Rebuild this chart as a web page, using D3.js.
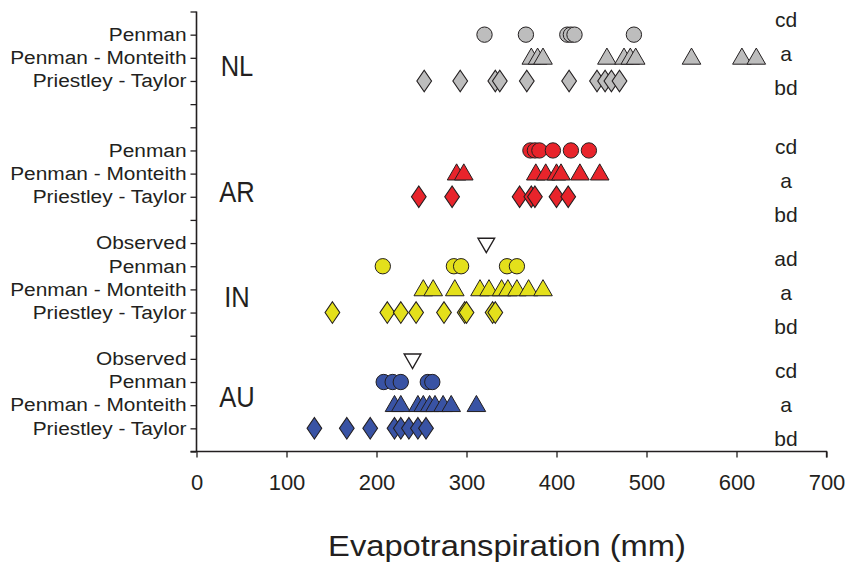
<!DOCTYPE html>
<html><head><meta charset="utf-8">
<script src="https://cdn.jsdelivr.net/npm/d3@7/dist/d3.min.js"></script>
<style>
html,body{margin:0;padding:0;background:#fff;}
svg text{font-family:"Liberation Sans",Arial,Helvetica,sans-serif;fill:#231f20;}
</style></head>
<body><svg id="chart" width="848" height="566"></svg>
<script>
// ---------- data ----------
const xTicks = [0, 100, 200, 300, 400, 500, 600, 700];
const rowLabels = ["", "Penman", "Penman - Monteith", "Priestley - Taylor", "", "",
  "Penman", "Penman - Monteith", "Priestley - Taylor", "",
  "Observed", "Penman", "Penman - Monteith", "Priestley - Taylor", "",
  "Observed", "Penman", "Penman - Monteith", "Priestley - Taylor", ""];
const sites = ["NL", "AR", "IN", "AU"];
const siteLetters = [["cd", "a", "bd"], ["cd", "a", "bd"], ["ad", "a", "bd"], ["cd", "a", "bd"]];

const nlPenman = [320, 366, 412, 416, 420, 486];
const nlPM = [372, 379, 385, 456, 475, 482, 488, 550, 606, 622];
const nlPT = [253, 293, 332, 337, 367, 414, 445, 454, 461, 470];
const arPenman = [371, 376, 381, 396, 416, 436];
const arPM = [289, 297, 377, 388, 400, 405, 426, 448];
const arPT = [247, 284, 359, 372, 376, 400, 413];
const inObserved = [322];
const inPenman = [207, 286, 294, 345, 356];
const inPM = [252, 263, 287, 315, 325, 339, 346, 356, 369, 385];
const inPT = [151, 212, 227, 244, 275, 298, 300, 329, 332];
const auObserved = [240];
const auPenman = [208, 218, 227, 257, 262];
const auPM = [220, 227, 246, 252, 259, 265, 274, 283, 311];
const auPT = [131, 167, 193, 220, 227, 236, 246, 255];

// ---------- styles / layout ----------
const siteColor = {NL: "#bdbdbd", AR: "#e8242b", IN: "#e4e01b", AU: "#3953a4"};
const siteFirstRow = {NL: 1, AR: 6, IN: 10, AU: 15};
const labelRow = {NL: 2.46, AR: 7.9, IN: 12.45, AU: 16.75};
const letterMidRow = {NL: 2.2, AR: 7.65, IN: 12.5, AU: 17.35};

const series = [
  {site: "NL", method: "Penman", values: nlPenman},
  {site: "NL", method: "Penman - Monteith", values: nlPM},
  {site: "NL", method: "Priestley - Taylor", values: nlPT},
  {site: "AR", method: "Penman", values: arPenman},
  {site: "AR", method: "Penman - Monteith", values: arPM},
  {site: "AR", method: "Priestley - Taylor", values: arPT},
  {site: "IN", method: "Observed", values: inObserved},
  {site: "IN", method: "Penman", values: inPenman},
  {site: "IN", method: "Penman - Monteith", values: inPM},
  {site: "IN", method: "Priestley - Taylor", values: inPT},
  {site: "AU", method: "Observed", values: auObserved},
  {site: "AU", method: "Penman", values: auPenman},
  {site: "AU", method: "Penman - Monteith", values: auPM},
  {site: "AU", method: "Priestley - Taylor", values: auPT}
];
series.forEach(s => {
  let r = siteFirstRow[s.site];
  while (rowLabels[r] !== s.method) r++;
  s.row = r;
});

const svg = d3.select("#chart");
const x = d3.scaleLinear().domain([0, 700]).range([196.5, 826.5]);
const y = d3.scaleLinear().domain([0, 19]).range([11.5, 451.5]);
const axisY = 451.5, axisX = 196.5;

// x axis
const gx = svg.append("g").attr("transform", `translate(0,${axisY})`)
  .call(d3.axisBottom(x).tickValues(xTicks).tickSize(6).tickPadding(17).tickFormat(d3.format("d")));
gx.select(".domain").attr("d", `M${x(0) - 6},0H${x(700)}V6`).attr("stroke", "#231f20").attr("stroke-width", 1.3);
gx.selectAll(".tick line").attr("stroke", "#231f20").attr("stroke-width", 1.3);
gx.selectAll(".tick text").attr("font-size", 22).attr("fill", "#231f20")
  .attr("font-family", "Liberation Sans, Arial, sans-serif");

// y axis
const rows = d3.range(0, 20);
const gy = svg.append("g").attr("transform", `translate(${axisX},0)`)
  .call(d3.axisLeft(y).tickValues(rows).tickSize(6).tickPadding(3).tickFormat(i => rowLabels[i]));
gy.select(".domain").attr("d", `M0,${y(0)}V${y(19)}`).attr("stroke", "#231f20").attr("stroke-width", 1.6);
gy.selectAll(".tick line").attr("stroke", "#231f20").attr("stroke-width", 1.3);
gy.selectAll(".tick text").attr("font-size", 18).attr("fill", "#231f20")
  .attr("font-family", "Liberation Sans, Arial, sans-serif")
  .attr("x", -10 / 1.16).attr("transform", "scale(1.16,1)");

// site labels
sites.forEach(s => {
  svg.append("text").attr("transform", `translate(237,${y(labelRow[s])}) scale(0.88,1)`)
    .attr("text-anchor", "middle").attr("dominant-baseline", "middle")
    .attr("font-size", 29).text(s);
});

// significance letters
sites.forEach((s, i) => {
  const mid = y(letterMidRow[s]);
  siteLetters[i].forEach((t, j) => {
    svg.append("text").attr("x", 786).attr("y", mid + (j - 1) * 34 - 1)
      .attr("text-anchor", "middle").attr("font-size", 21).text(t);
  });
});

// markers
const symType = {
  "Penman": d3.symbolCircle,
  "Penman - Monteith": d3.symbolTriangle,
  "Priestley - Taylor": d3.symbolDiamond,
  "Observed": d3.symbolTriangle
};
const symSize = {"Penman": 185, "Penman - Monteith": 150, "Priestley - Taylor": 150, "Observed": 120};
series.forEach(s => {
  const g = svg.append("g");
  const sym = d3.symbol().type(symType[s.method]).size(symSize[s.method]);
  s.values.forEach(v => {
    const obs = s.method === "Observed";
    g.append("path").attr("d", sym())
      .attr("transform", `translate(${x(v)},${y(s.row)})` + (obs ? " rotate(180)" : "") +
        (s.method === "Priestley - Taylor" ? " scale(1.12,0.95)" : "") +
        (s.method === "Penman - Monteith" ? " translate(0,1)" : ""))
      .attr("fill", obs ? "#ffffff" : siteColor[s.site])
      .attr("stroke", "#231f20").attr("stroke-width", obs ? 1.4 : 1);
  });
});

// axis title
svg.append("text").attr("transform", "translate(507,556) scale(1.09,1)")
  .attr("text-anchor", "middle").attr("font-size", 30).text("Evapotranspiration (mm)");
</script></body></html>
